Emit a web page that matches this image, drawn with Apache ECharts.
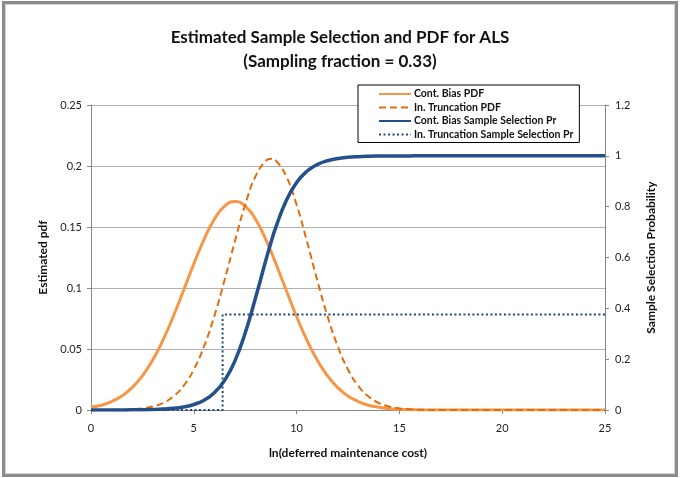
<!DOCTYPE html>
<html>
<head>
<meta charset="utf-8">
<script src="https://cdn.jsdelivr.net/npm/echarts@6/dist/echarts.min.js"></script>
<style>
body { margin: 0; background: #fff; }
#frame {
    position: absolute; left: 2px; top: 1px; width: 670px; height: 470px;
    border: 3px solid #8c8c8c;
    box-shadow: inset 0 0 0 1px #d4d4d4;
}
#chart { position: absolute; left: 0; top: 0; width: 680px; height: 478px; }
</style>
</head>
<body>
<div id="frame"></div>
<div id="chart"></div>
<script>
// values
const xs = [0, 0.5, 1, 1.5, 2, 2.5, 3, 3.5, 4, 4.5, 5, 5.5, 6, 6.5, 7, 7.5, 8, 8.5, 8.75, 9,
    9.5, 10, 10.5, 11, 11.5, 12, 12.5, 13, 13.5, 14, 14.5, 15, 15.5, 16, 16.5, 17, 20, 25]
const contBiasPdf = [0.0024, 0.0039, 0.0069, 0.0115, 0.0183, 0.028, 0.041, 0.0573, 0.0766, 0.0979,
    0.1197, 0.1399, 0.1564, 0.1672, 0.171, 0.1672, 0.1564, 0.1399, 0.1301, 0.1197,
    0.0979, 0.0766, 0.0573, 0.041, 0.028, 0.0183, 0.0115, 0.0069, 0.0039, 0.0022,
    0.0011, 0.0006, 0.0003, 0.0001, 0, 0, 0, 0]
const truncPdf = [0, 0, 0.0001, 0.0002, 0.0006, 0.0013, 0.0028, 0.0057, 0.011, 0.0197,
    0.0332, 0.0523, 0.0771, 0.1067, 0.1384, 0.1682, 0.1915, 0.2043, 0.206, 0.2043,
    0.1915, 0.1682, 0.1384, 0.1067, 0.0771, 0.0523, 0.0332, 0.0197, 0.011, 0.0057,
    0.0028, 0.0013, 0.0006, 0.0002, 0.0001, 0, 0, 0]
const contBiasPr = [0.0001, 0.0001, 0.0002, 0.0003, 0.0006, 0.0011, 0.002, 0.0037, 0.0067, 0.0121,
    0.0217, 0.0386, 0.0679, 0.1167, 0.1933, 0.303, 0.4407, 0.5883, 0.658, 0.7215,
    0.8246, 0.895, 0.9392, 0.9655, 0.9807, 0.9893, 0.9941, 0.9967, 0.9982, 0.999,
    0.9994, 0.9997, 0.9998, 0.9999, 1, 1, 1, 1]
const truncPrX = [0, 6.4, 6.4, 25]
const truncPr = [0, 0, 0.376, 0.376]
const names = ['Cont. Bias PDF', 'In. Truncation PDF', 'Cont. Bias Sample Selection Pr', 'In. Truncation Sample Selection Pr']

const font = 'Lato, "Liberation Sans", sans-serif'
const pair = (x, y) => x.map((v, i) => [v, y[i]])

let chart = echarts.init(document.getElementById('chart'))
let axisCommon = {
    axisLine: { show: true, lineStyle: { color: '#868686', width: 1 } },
    axisTick: { show: true, length: 4, lineStyle: { color: '#868686' } },
    axisLabel: { color: '#222', fontSize: 11, fontFamily: font },
    nameTextStyle: { color: '#111', fontSize: 12, fontWeight: 'bold', fontFamily: font }
}
let option = {
    animation: false,
    title: {
        text: 'Estimated Sample Selection and PDF for ALS\n(Sampling fraction = 0.33)',
        left: 'center',
        top: 21,
        textStyle: { fontSize: 17, fontWeight: 'bold', fontFamily: font, color: '#111', lineHeight: 24 }
    },
    legend: {
        data: names,
        orient: 'vertical',
        left: 358,
        top: 85,
        padding: [3, 6, 2, 20],
        itemWidth: 32,
        itemHeight: 12,
        itemGap: 1.5,
        itemStyle: { opacity: 0 },
        backgroundColor: '#fff',
        borderColor: '#000',
        borderWidth: 1,
        borderRadius: 0,
        z: 10,
        textStyle: { fontSize: 10.5, fontWeight: 'bold', fontFamily: font, color: '#111', lineHeight: 12, padding: [0, 0, 0, -2] }
    },
    grid: { left: 91, right: 75, top: 105, bottom: 68 },
    xAxis: {
        ...axisCommon,
        type: 'value',
        min: 0, max: 25, interval: 5,
        name: 'ln(deferred maintenance cost)',
        nameLocation: 'middle',
        nameGap: 37,
        splitLine: { show: false },
        axisLabel: { ...axisCommon.axisLabel, margin: 13 }
    },
    yAxis: [{
        ...axisCommon,
        type: 'value',
        min: 0, max: 0.25, interval: 0.05,
        name: 'Estimated pdf',
        nameLocation: 'middle',
        nameGap: 38,
        splitLine: { show: true, lineStyle: { color: '#b0b0b0', width: 1 } },
        axisLabel: { ...axisCommon.axisLabel, margin: 9 }
    }, {
        ...axisCommon,
        type: 'value',
        position: 'right',
        min: 0, max: 1.2, interval: 0.2,
        name: 'Sample Selection Probability',
        nameLocation: 'middle',
        nameGap: 40,
        splitLine: { show: false },
        axisLabel: { ...axisCommon.axisLabel, margin: 10 }
    }],
    series: [{
        name: names[0],
        type: 'line',
        yAxisIndex: 0,
        data: pair(xs, contBiasPdf),
        smooth: true,
        symbol: 'none',
        color: '#F79646',
        lineStyle: { color: '#F79646', width: 3 }
    }, {
        name: names[1],
        type: 'line',
        yAxisIndex: 0,
        data: pair(xs, truncPdf),
        smooth: true,
        symbol: 'none',
        color: '#E46C0A',
        lineStyle: { color: '#E46C0A', width: 2, type: [7, 4] }
    }, {
        name: names[2],
        type: 'line',
        yAxisIndex: 1,
        data: pair(xs, contBiasPr),
        smooth: true,
        symbol: 'none',
        color: '#24508C',
        lineStyle: { color: '#24508C', width: 3.5 }
    }, {
        name: names[3],
        type: 'line',
        yAxisIndex: 1,
        data: pair(truncPrX, truncPr),
        symbol: 'none',
        color: '#1F497D',
        lineStyle: { color: '#1F497D', width: 2, type: [2, 2.5] }
    }]
}
chart.setOption(option)
</script>
</body>
</html>
